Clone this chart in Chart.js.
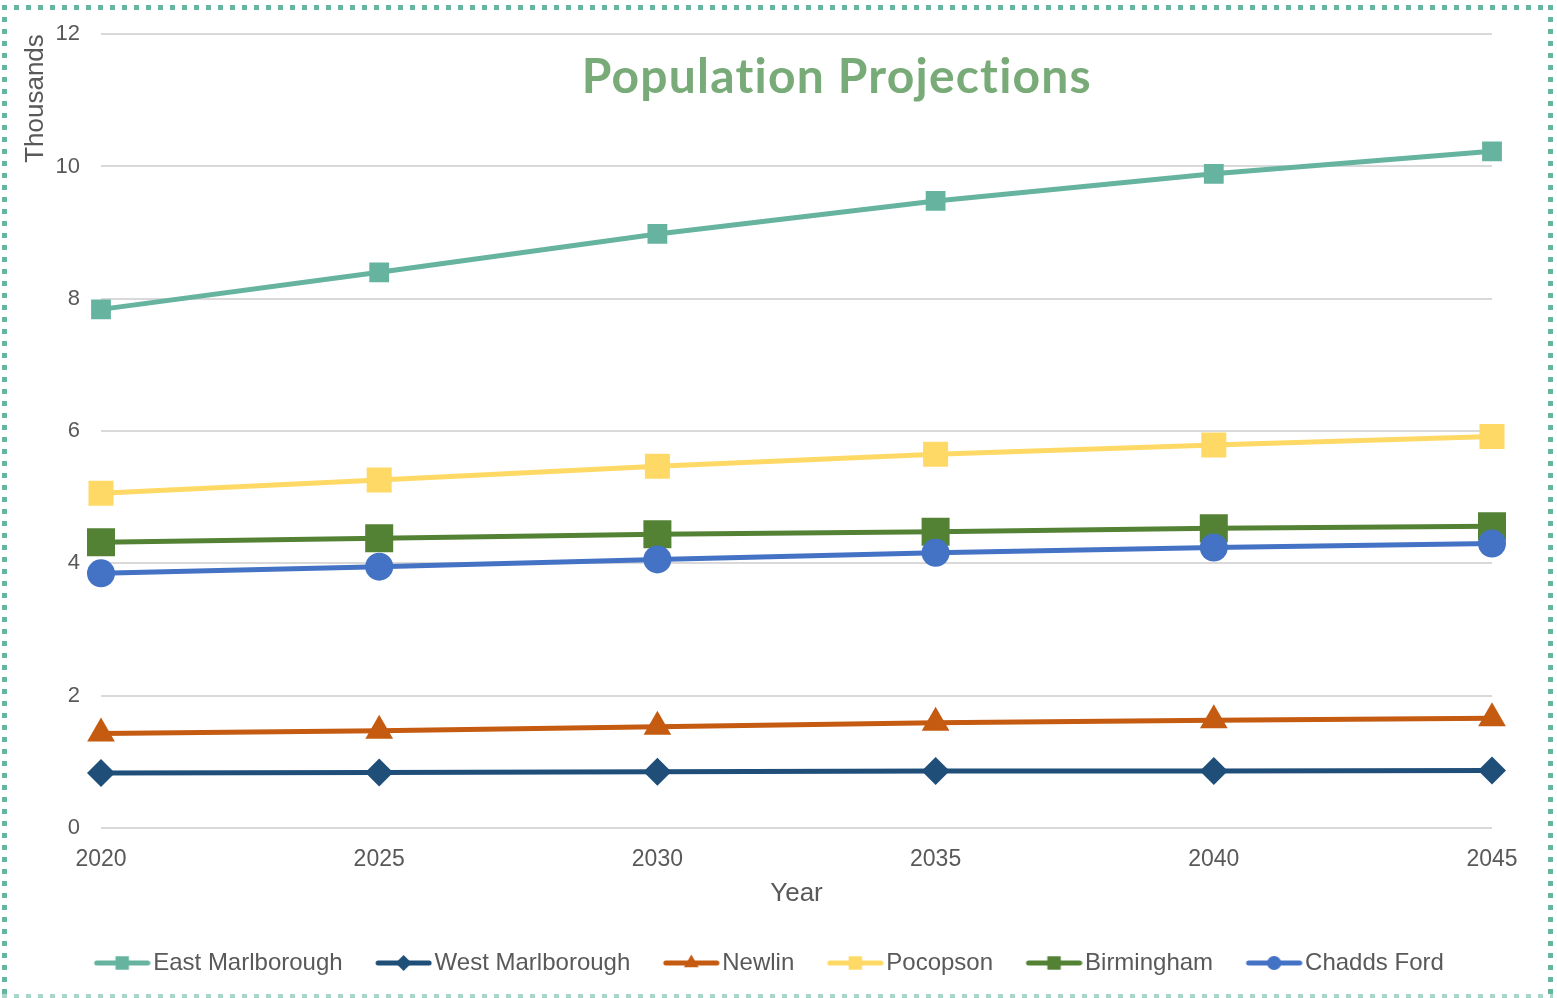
<!DOCTYPE html>
<html>
<head>
<meta charset="utf-8">
<title>Population Projections</title>
<script src="https://cdn.jsdelivr.net/npm/chart.js@4.4.1/dist/chart.umd.min.js"></script>
<style>
  html, body { margin: 0; padding: 0; background: #fff; overflow: hidden; }
  #wrap { position: relative; width: 1557px; height: 998px; }
  #chart { position: absolute; left: 0; top: 0; }
  #frame {
    position: absolute; left: 2px; top: 5px; width: 1551px; height: 994px; pointer-events: none;
    background:
      repeating-linear-gradient(to right, #66b5a0 0 5px, transparent 5px 12px) top left / 100% 5px no-repeat,
      repeating-linear-gradient(to right, #a9d6ca 0 5px, transparent 5px 12px) bottom left / 100% 5px no-repeat,
      repeating-linear-gradient(to bottom, #66b5a0 0 5px, transparent 5px 12px) top left / 5px 100% no-repeat,
      repeating-linear-gradient(to bottom, #66b5a0 0 5px, transparent 5px 12px) top right / 5px 100% no-repeat;
  }
</style>
</head>
<body>
<div id="wrap">
  <canvas id="chart" width="1557" height="998"></canvas>
  <div id="frame"></div>
</div>
<script>
// Projection years and population (thousands) per municipality
const years = ['2020', '2025', '2030', '2035', '2040', '2045'];
const eastMarlborough = [7.84, 8.40, 8.98, 9.48, 9.89, 10.23];
const westMarlborough = [0.83, 0.84, 0.85, 0.86, 0.86, 0.87];
const newlin          = [1.43, 1.47, 1.53, 1.59, 1.63, 1.66];
const pocopson        = [5.06, 5.26, 5.47, 5.65, 5.79, 5.92];
const birmingham      = [4.32, 4.38, 4.44, 4.48, 4.53, 4.56];
const chaddsFord      = [3.85, 3.95, 4.06, 4.16, 4.24, 4.30];

const yMin = 0, yMax = 12, yStep = 2;

const TEXT = '#595959';
const FONT = '"Liberation Sans", Arial, sans-serif';

// Per-series style: colour, marker shape, marker radius, legend marker radius
const series = [
  { label: 'East Marlborough', data: eastMarlborough, color: '#66b3a0', shape: 'rect',    r: 14,   lr: 9.5 },
  { label: 'West Marlborough', data: westMarlborough, color: '#1f4e79', shape: 'rectRot', r: 14,   lr: 8 },
  { label: 'Newlin',           data: newlin,          color: '#c55a11', shape: 'triangle',r: 16,   lr: 8.5 },
  { label: 'Pocopson',         data: pocopson,        color: '#ffd966', shape: 'rect',    r: 17.7, lr: 9.5 },
  { label: 'Birmingham',       data: birmingham,      color: '#548235', shape: 'rect',    r: 19.8, lr: 9.5 },
  { label: 'Chadds Ford',      data: chaddsFord,      color: '#4472c4', shape: 'circle',  r: 14,   lr: 7 }
];

// Legend box width and swatch image (short line with the marker in its middle).
// The swatch is wider than the box so the line runs up close to the label text.
const LEGEND_BOX = 43;
function legendSwatch(s) {
  const c = document.createElement('canvas');
  c.width = 62; c.height = 20;
  const g = c.getContext('2d');
  g.strokeStyle = s.color; g.lineWidth = 5; g.lineCap = 'round';
  g.beginPath(); g.moveTo(8, 10); g.lineTo(59, 10); g.stroke();
  g.fillStyle = s.color;
  Chart.helpers.drawPoint(g, { pointStyle: s.shape, radius: s.lr, rotation: 0, borderWidth: 0 }, 33.5, 10);
  return c;
}

// Heading drawn inside the plot area
const heading = {
  id: 'heading',
  afterDatasetsDraw(chart) {
    const a = chart.chartArea;
    const ctx = chart.ctx;
    ctx.save();
    ctx.font = 'bold 48px Lato, "Open Sans", sans-serif';
    if ('letterSpacing' in ctx) ctx.letterSpacing = '1.2px';
    ctx.fillStyle = '#78ab78';
    ctx.textAlign = 'center';
    ctx.textBaseline = 'middle';
    ctx.fillText('Population Projections', a.left + a.width * 0.529, a.top + 43);
    ctx.restore();
  }
};

const datasets = series.map((s, i) => ({
  label: s.label,
  data: s.data,
  borderColor: s.color,
  backgroundColor: s.color,
  borderWidth: 5,
  pointStyle: s.shape,
  pointRadius: s.r,
  pointHoverRadius: s.r,
  pointBorderWidth: 0,
  pointBackgroundColor: s.color,
  tension: 0,
  order: series.length - i
}));

new Chart(document.getElementById('chart'), {
  type: 'line',
  data: { labels: years, datasets },
  plugins: [heading],
  options: {
    responsive: false,
    animation: false,
    devicePixelRatio: 1,
    layout: { padding: { left: 50, right: 65, top: 34, bottom: 13 } },
    plugins: {
      tooltip: { enabled: false },
      title: { display: false },
      legend: {
        position: 'bottom',
        labels: {
          usePointStyle: true,
          pointStyleWidth: LEGEND_BOX,
          padding: 37,
          color: TEXT,
          font: { family: FONT, size: 24 },
          sort: (a, b) => a.datasetIndex - b.datasetIndex,
          generateLabels(chart) {
            const items = Chart.defaults.plugins.legend.labels.generateLabels(chart);
            items.forEach(it => {
              it.pointStyle = legendSwatch(series[it.datasetIndex]);
              it.fontColor = TEXT;
            });
            return items;
          }
        }
      }
    },
    scales: {
      x: {
        grid: { display: false },
        border: { display: false },
        ticks: { color: TEXT, font: { family: FONT, size: 23 }, padding: 10, maxRotation: 0, autoSkip: false },
        title: { display: true, text: 'Year', color: TEXT, font: { family: FONT, size: 26 }, padding: { top: 0, bottom: 5 } },
        afterFit(scale) { scale.height = 86; }
      },
      y: {
        min: yMin, max: yMax,
        ticks: { stepSize: yStep, color: TEXT, font: { family: FONT, size: 22 }, padding: 21 },
        grid: { color: '#d9d9d9', lineWidth: 2, drawTicks: false },
        border: { display: false },
        title: { display: true, text: 'Thousands', align: 'end', color: TEXT, font: { family: FONT, size: 26 }, padding: { top: -30, bottom: 0 } },
        afterFit(scale) { scale.width = 51; }
      }
    }
  }
});
</script>
</body>
</html>
